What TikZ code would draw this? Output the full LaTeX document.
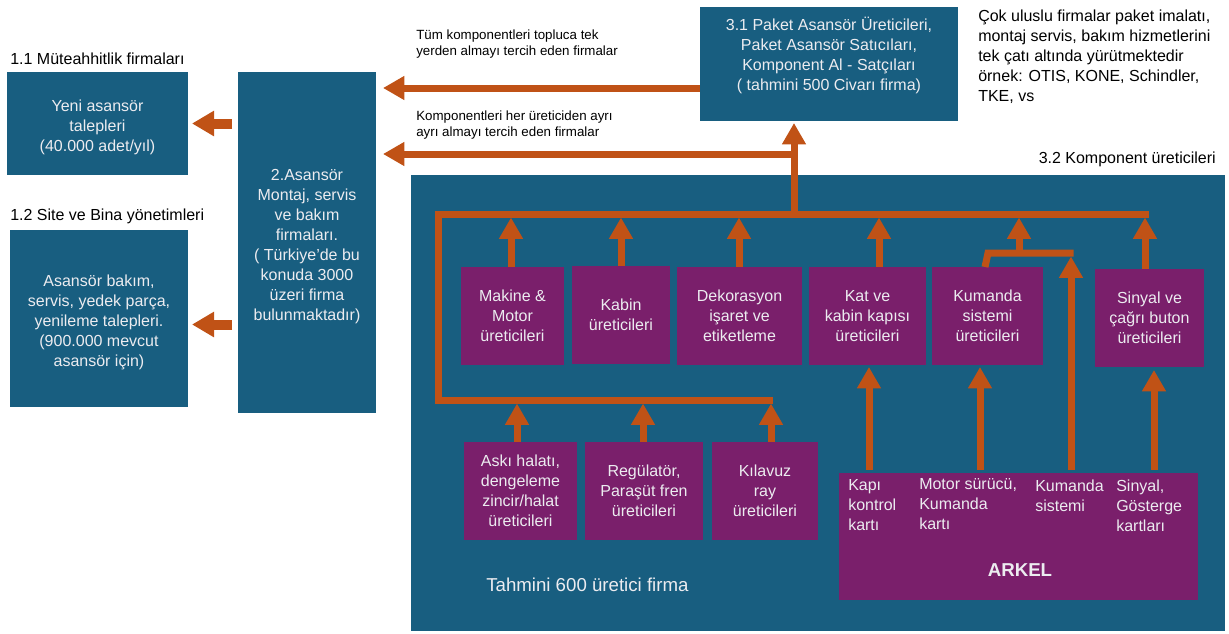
\documentclass[tikz,border=0pt]{standalone}
\usepackage{fontspec}
\setmainfont{Liberation Sans}
\usetikzlibrary{arrows.meta,fit,calc}
\definecolor{blueC}{RGB}{24,94,128}
\definecolor{purpC}{RGB}{122,31,107}
\definecolor{orgC}{RGB}{192,82,22}
\definecolor{txtC}{RGB}{236,236,240}
\newcommand\fsz[2]{\fontsize{#1}{#2}\selectfont}
\newcommand\topstrut{\rule{0pt}{14.6pt}}
\begin{document}
\begin{tikzpicture}[x=0.75pt,y=-0.75pt,
  sz/.style 2 args={minimum width={#1*0.75pt}, minimum height={#2*0.75pt}},
  bbox/.style={fill=blueC, inner sep=0pt, outer sep=0pt, text=txtC, align=center, font=\fsz{12}{15}},
  pbox/.style={fill=purpC, inner sep=0pt, outer sep=0pt, text=txtC, align=center, font=\fsz{12}{15}},
  lbl/.style={inner sep=0pt, text=black, align=left, font=\fsz{12}{15}},
  small/.style={inner sep=0pt, text=black, align=left, font=\fsz{10}{12}},
  atext/.style={inner sep=0pt, text=txtC, align=left, font=\fsz{12}{15}},
  fat/.style={draw=orgC, line width=5.25pt, -{Triangle[width=17pt,length=16pt]}},
  bigarrow/.style={draw=orgC, line width=7.5pt, -{Triangle[width=18pt,length=16.5pt]}},
  bus/.style={draw=orgC, line width=5.25pt, line join=miter}]
\useasboundingbox (0,0) rectangle (1229,633);

% container
\node[fill=blueC, inner sep=0pt, outer sep=0pt, fit={(411,175)(1225,631)}] (comp) {};

% left side
\node[lbl, anchor=north west] (l11) at (10,53) {1.1 Müteahhitlik firmaları};
\node[lbl, anchor=north west] (l12) at (10,209) {1.2 Site ve Bina yönetimleri};
\node[bbox, sz={181}{103}] (yeni) at (97.5,123.5) {\topstrut Yeni asansör\\talepleri\\(40.000 adet/yıl)};
\node[bbox, sz={178}{177}] (site) at (99,318.5) {\topstrut Asansör bakım,\\servis, yedek parça,\\yenileme talepleri.\\(900.000 mevcut\\asansör için)};
\node[bbox, sz={138}{341}] (montaj) at (307,242.5) {\topstrut 2.Asansör\\Montaj, servis\\ve bakım\\firmaları.\\( Türkiye’de bu\\konuda 3000\\üzeri firma\\bulunmaktadır)};

% top
\node[bbox, fit={(700,7)(958,121)}] (paket) {};
\node[bbox, anchor=center] (t31) at (829,55.5) {3.1 Paket Asansör Üreticileri,\\Paket Asansör Satıcıları,\\Komponent Al - Satçıları\\( tahmini 500 Civarı firma)};
\node[lbl, anchor=north west] (cok) at (978,10) {Çok uluslu firmalar paket imalatı,\\montaj servis, bakım hizmetlerini\\tek çatı altında yürütmektedir\\örnek: OTIS, KONE, Schindler,\\TKE, vs};
\node[small, anchor=north west] (tum) at (416,29.5) {Tüm komponentleri topluca tek\\yerden almayı tercih eden firmalar};
\node[small, anchor=north west] (ayri) at (416,111) {Komponentleri her üreticiden ayrı\\ayrı almayı tercih eden firmalar};
\node[lbl, anchor=north east] (l32) at (1216,152) {3.2 Komponent üreticileri};

% upper component boxes
\node[pbox, sz={103}{98}] (mak) at (512.5,316) {Makine \&\\Motor\\üreticileri};
\node[pbox, sz={98}{98}] (kab) at (621,315) {Kabin\\üreticileri};
\node[pbox, sz={125}{98}] (dek) at (739.5,316) {Dekorasyon\\işaret ve\\etiketleme};
\node[pbox, sz={117}{98}] (kat) at (867.5,316) {Kat ve\\kabin kapısı\\üreticileri};
\node[pbox, sz={111}{98}] (kum) at (987.5,316) {Kumanda\\sistemi\\üreticileri};
\node[pbox, sz={109}{98}] (sin) at (1149.5,318) {Sinyal ve\\çağrı buton\\üreticileri};

% lower component boxes
\node[pbox, sz={113}{98}] (aski) at (520.5,491) {Askı halatı,\\dengeleme\\zincir/halat\\üreticileri};
\node[pbox, sz={118}{98}] (reg) at (644,491) {Regülatör,\\Paraşüt fren\\üreticileri};
\node[pbox, sz={106}{98}] (kil) at (765,491) {Kılavuz\\ray\\üreticileri};

% ARKEL
\node[pbox, fit={(839,473)(1198,600)}] (arkel) {};
\node[atext, anchor=north west] (a1) at (848,479.5) {Kapı\\kontrol\\kartı};
\node[atext, anchor=north west] (a2) at (919,478) {Motor sürücü,\\Kumanda\\kartı};
\node[atext, anchor=north west] (a3) at (1035,479.5) {Kumanda\\sistemi};
\node[atext, anchor=north west] (a4) at (1116,479.5) {Sinyal,\\Gösterge\\kartları};
\node[inner sep=0pt, text=txtC, font=\fsz{14}{16}\bfseries] (ark) at (1020,570.5) {ARKEL};
\node[inner sep=0pt, text=txtC, font=\fsz{14}{16}, anchor=north west] (tah) at (486,578) {Tahmini 600 üretici firma};

% coordinates of the pipes
\coordinate (busL) at (438,214);
\coordinate (busR) at (1148.5,214);
\coordinate (lbL) at (438,400);
\coordinate (lbR) at (773,400);
\coordinate (busB) at (0,217.5);
\coordinate (lbusB) at (0,403.5);
\coordinate (hub) at (794,214);
\coordinate (j2) at (794,154);
\coordinate (sbL) at (988,253);
\coordinate (sbR) at (1073.5,253);
\coordinate (sbM) at (1019,253);

% pipes
\draw[bus] (busR) -- (busL) -- (lbL) -- (lbR);
\draw[bus] ($(kum.north)+(-2.5,0)$) -- (sbL) -- (sbR);

% left arrows
\draw[bigarrow] ($(montaj.west |- yeni.east)+(-6,0)$) -- ($(yeni.east)+(4,0)$);
\draw[bigarrow] ($(montaj.west |- site.east)+(-6,6)$) -- ($(site.east)+(4,6)$);

% top arrows
\draw[fat] (hub) -- ($(hub |- paket.south)+(0,2)$);
\draw[fat] ($(paket.west)+(0,24)$) -- ($(montaj.east |- paket.west)+(7,24)$);
\draw[fat] (j2) -- ($(montaj.east |- j2)+(7,0)$);

% upper boxes to bus
\draw[fat] ($(mak.north)+(-1.5,0)$) -- ($(mak.north |- busB)+(-1.5,0)$);
\draw[fat] (kab.north) -- (kab.north |- busB);
\draw[fat] ($(dek.north)+(-0.5,0)$) -- ($(dek.north |- busB)+(-0.5,0)$);
\draw[fat] ($(kat.north)+(11.5,0)$) -- ($(kat.north |- busB)+(11.5,0)$);
\draw[fat] (sbM) -- (sbM |- busB);
\draw[fat] ($(sin.north)+(-4.5,0)$) -- ($(sin.north |- busB)+(-4.5,0)$);

% lower boxes to lower bus
\draw[fat] ($(aski.north)+(-3.5,0)$) -- ($(aski.north |- lbusB)+(-3.5,0)$);
\draw[fat] ($(reg.north)+(-1,0)$) -- ($(reg.north |- lbusB)+(-1,0)$);
\draw[fat] ($(kil.north)+(6,0)$) -- ($(kil.north |- lbusB)+(6,0)$);

% ARKEL to boxes
\draw[fat] ($(arkel.north -| kat.south)+(1.5,-3)$) -- ($(kat.south)+(1.5,2)$);
\draw[fat] ($(arkel.north -| kum.south)+(-7.5,-3)$) -- ($(kum.south)+(-7.5,2)$);
\draw[fat] ($(arkel.north -| sbR)+(-2.5,-3)$) -- ($(sbR)+(-2.5,3.5)$);
\draw[fat] ($(arkel.north -| sin.south)+(4.5,-3)$) -- ($(sin.south)+(4.5,3)$);
\end{tikzpicture}
\end{document}
